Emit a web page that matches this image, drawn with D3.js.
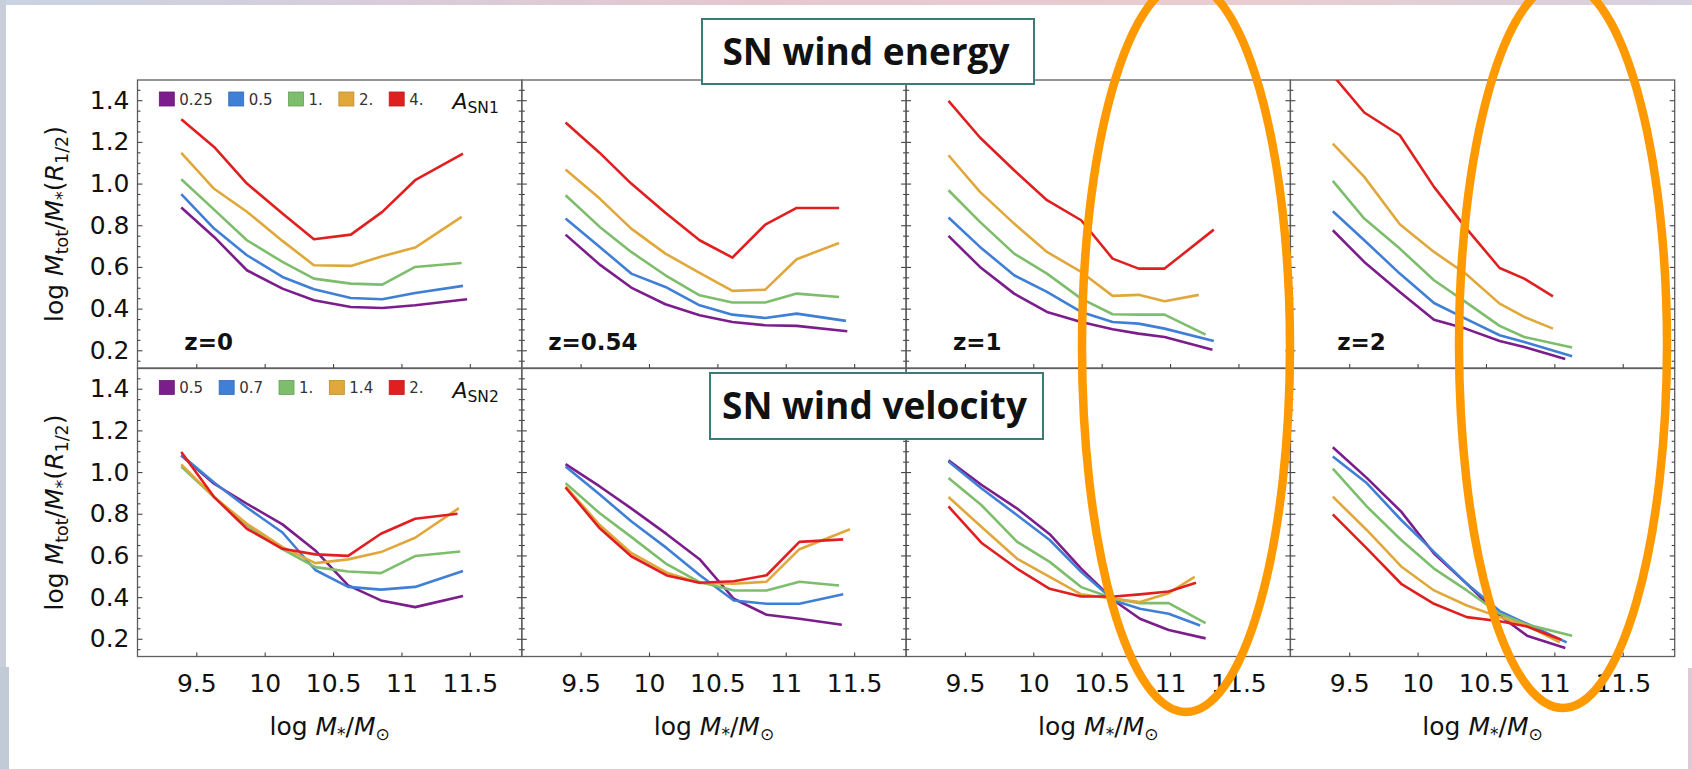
<!DOCTYPE html>
<html>
<head>
<meta charset="utf-8">
<script src="https://cdn.jsdelivr.net/npm/d3@7"></script>
<style>
  html, body { margin: 0; padding: 0; background: #fff; overflow: hidden; }
  svg { display: block; }
</style>
</head>
<body>
<svg id="chart"></svg>
<script>
const width = 1692;
const height = 769;

// axis ticks and labels
const massTicks = [9.5, 10, 10.5, 11, 11.5];
const ratioTicks = [0.2, 0.4, 0.6, 0.8, 1.0, 1.2, 1.4];
const redshiftLabels = ["z=0", "z=0.54", "z=1", "z=2"];
const energyLabels = ["0.25", "0.5", "1.", "2.", "4."];
const velocityLabels = ["0.5", "0.7", "1.", "1.4", "2."];
const seriesColors = ["#7b1e8c", "#3f7fd6", "#7dbd6c", "#e0a83a", "#e02020"];

// SN wind energy row (A_SN1), series order: purple, blue, green, gold, red
// *_x = shared mass bins, *_end = last x of each series
const e0_x = [9.39, 9.63, 9.87, 10.13, 10.36, 10.63, 10.86, 11.1];
const e0_end = [11.48, 11.45, 11.44, 11.44, 11.45];
const e0_y = [
  [0.885, 0.744, 0.584, 0.496, 0.44, 0.408, 0.403, 0.416, 0.445],
  [0.949, 0.784, 0.656, 0.552, 0.493, 0.451, 0.445, 0.475, 0.509],
  [1.021, 0.875, 0.728, 0.624, 0.544, 0.52, 0.515, 0.6, 0.619],
  [1.147, 0.975, 0.865, 0.725, 0.608, 0.605, 0.651, 0.693, 0.84],
  [1.309, 1.176, 1.0, 0.856, 0.733, 0.755, 0.864, 1.016, 1.144]
];

const e1_x = [9.39, 9.64, 9.87, 10.12, 10.37, 10.61, 10.85, 11.08];
const e1_end = [11.45, 11.44, 11.39, 11.39, 11.39];
const e1_y = [
  [0.755, 0.611, 0.501, 0.421, 0.368, 0.336, 0.32, 0.317, 0.291],
  [0.832, 0.696, 0.568, 0.504, 0.416, 0.371, 0.355, 0.376, 0.341],
  [0.944, 0.792, 0.672, 0.56, 0.464, 0.429, 0.429, 0.472, 0.456],
  [1.067, 0.928, 0.784, 0.664, 0.571, 0.485, 0.491, 0.637, 0.715],
  [1.293, 1.147, 1.0, 0.86, 0.728, 0.645, 0.803, 0.883, 0.883]
];

const e2_x = [9.38, 9.61, 9.86, 10.1, 10.35, 10.58, 10.77, 10.96];
const e2_end = [11.31, 11.32, 11.26, 11.21, 11.32];
const e2_y = [
  [0.749, 0.6, 0.472, 0.384, 0.336, 0.301, 0.28, 0.264, 0.203],
  [0.837, 0.696, 0.56, 0.48, 0.384, 0.336, 0.328, 0.304, 0.245],
  [0.968, 0.816, 0.664, 0.568, 0.448, 0.373, 0.371, 0.371, 0.275],
  [1.136, 0.96, 0.808, 0.672, 0.576, 0.461, 0.466, 0.435, 0.466],
  [1.397, 1.221, 1.064, 0.92, 0.824, 0.64, 0.592, 0.592, 0.779]
];

const e3_x = [9.38, 9.61, 9.87, 10.12, 10.35, 10.6, 10.78];
const e3_end = [11.08, 11.13, 11.13, 10.99, 10.99];
const e3_y = [
  [0.776, 0.624, 0.48, 0.347, 0.304, 0.245, 0.216, 0.158],
  [0.867, 0.728, 0.568, 0.427, 0.352, 0.272, 0.24, 0.171],
  [1.013, 0.832, 0.688, 0.536, 0.432, 0.317, 0.264, 0.213],
  [1.192, 1.032, 0.805, 0.672, 0.568, 0.424, 0.36, 0.304],
  [1.52, 1.341, 1.232, 0.984, 0.79, 0.595, 0.544, 0.459]
];

// SN wind velocity row (A_SN2)
const v0_x = [9.39, 9.63, 9.87, 10.13, 10.37, 10.61, 10.85, 11.1];
const v0_end = [11.45, 11.45, 11.43, 11.42, 11.41];
const v0_y = [
  [1.08, 0.944, 0.848, 0.749, 0.624, 0.456, 0.384, 0.352, 0.405],
  [1.082, 0.95, 0.83, 0.71, 0.53, 0.449, 0.436, 0.449, 0.525],
  [1.026, 0.88, 0.745, 0.63, 0.544, 0.523, 0.515, 0.597, 0.619],
  [1.037, 0.88, 0.752, 0.64, 0.563, 0.581, 0.616, 0.685, 0.827],
  [1.096, 0.88, 0.728, 0.632, 0.605, 0.598, 0.704, 0.776, 0.8]
];

const v1_x = [9.39, 9.64, 9.87, 10.13, 10.37, 10.62, 10.86, 11.1];
const v1_end = [11.41, 11.42, 11.39, 11.47, 11.42];
const v1_y = [
  [1.038, 0.931, 0.826, 0.702, 0.582, 0.392, 0.315, 0.296, 0.267],
  [1.027, 0.892, 0.764, 0.635, 0.506, 0.384, 0.368, 0.368, 0.414],
  [0.947, 0.802, 0.689, 0.558, 0.472, 0.432, 0.432, 0.474, 0.456],
  [0.931, 0.746, 0.612, 0.517, 0.468, 0.464, 0.474, 0.63, 0.726],
  [0.926, 0.73, 0.596, 0.504, 0.469, 0.476, 0.505, 0.665, 0.677]
];

const v2_x = [9.38, 9.62, 9.88, 10.12, 10.35, 10.59, 10.78, 10.99];
const v2_end = [11.26, 11.22, 11.26, 11.18, 11.19];
const v2_y = [
  [1.056, 0.939, 0.826, 0.702, 0.537, 0.384, 0.296, 0.242, 0.202],
  [1.051, 0.922, 0.794, 0.674, 0.521, 0.384, 0.344, 0.32, 0.264],
  [0.971, 0.842, 0.666, 0.569, 0.448, 0.392, 0.371, 0.371, 0.275],
  [0.88, 0.738, 0.585, 0.497, 0.413, 0.392, 0.376, 0.419, 0.497],
  [0.835, 0.661, 0.537, 0.44, 0.403, 0.403, 0.413, 0.427, 0.469]
];

const v3_x = [9.38, 9.63, 9.88, 10.12, 10.36, 10.6, 10.8];
const v3_end = [11.08, 11.09, 11.13, 11.04, 11.05];
const v3_y = [
  [1.119, 0.971, 0.81, 0.609, 0.464, 0.312, 0.215, 0.156],
  [1.075, 0.946, 0.77, 0.617, 0.464, 0.333, 0.272, 0.183],
  [1.016, 0.834, 0.674, 0.537, 0.432, 0.32, 0.268, 0.215],
  [0.882, 0.721, 0.547, 0.432, 0.36, 0.304, 0.263, 0.183],
  [0.797, 0.633, 0.464, 0.368, 0.304, 0.284, 0.259, 0.195]
];

const panels = [
  { row: 0, col: 0, xs: e0_x, ends: e0_end, ys: e0_y },
  { row: 0, col: 1, xs: e1_x, ends: e1_end, ys: e1_y },
  { row: 0, col: 2, xs: e2_x, ends: e2_end, ys: e2_y },
  { row: 0, col: 3, xs: e3_x, ends: e3_end, ys: e3_y },
  { row: 1, col: 0, xs: v0_x, ends: v0_end, ys: v0_y },
  { row: 1, col: 1, xs: v1_x, ends: v1_end, ys: v1_y },
  { row: 1, col: 2, xs: v2_x, ends: v2_end, ys: v2_y },
  { row: 1, col: 3, xs: v3_x, ends: v3_end, ys: v3_y }
];

// layout
const panelLeft = 137.5;
const panelW = 384.3;
const rowTops = [80, 368.5];
const rowH = 288;
const massDomain = [9.07, 11.88];
const ratioDomain = [0.115, 1.497];
const frameColor = "#5e5e5e";
const tickFont = "'DejaVu Sans', Verdana, sans-serif";

const svg = d3.select("#chart").attr("width", width).attr("height", height);
const defs = svg.append("defs");

// faint photo border round the slide
const topGrad = defs.append("linearGradient").attr("id", "topGrad");
topGrad.append("stop").attr("offset", "0%").attr("stop-color", "#c9d3e3");
topGrad.append("stop").attr("offset", "45%").attr("stop-color", "#e6c7cf");
topGrad.append("stop").attr("offset", "75%").attr("stop-color", "#e9cdd0");
topGrad.append("stop").attr("offset", "100%").attr("stop-color", "#d6d2df");

svg.append("rect").attr("width", width).attr("height", height).attr("fill", "#fff");
svg.append("rect").attr("x", 0).attr("y", 0).attr("width", width).attr("height", 5)
  .attr("fill", "url(#topGrad)");
svg.append("rect").attr("x", 0).attr("y", 0).attr("width", 6).attr("height", 667)
  .attr("fill", "#c8cfdb");
svg.append("rect").attr("x", 0).attr("y", 667).attr("width", 9).attr("height", height - 667)
  .attr("fill", "#c3cad7");
svg.append("rect").attr("x", 1688).attr("y", 668).attr("width", 4).attr("height", height - 668)
  .attr("fill", "#dccbd4");

const line = d3.line();

panels.forEach((p, i) => {
  const left = panelLeft + p.col * panelW;
  const top = rowTops[p.row];
  const xScale = d3.scaleLinear().domain(massDomain).range([left, left + panelW]);
  const yScale = d3.scaleLinear().domain(ratioDomain).range([top + rowH, top]);

  const clipId = "clip" + i;
  defs.append("clipPath").attr("id", clipId)
    .append("rect")
    .attr("x", left).attr("y", top)
    .attr("width", panelW).attr("height", rowH);

  const g = svg.append("g");

  // frame
  g.append("rect")
    .attr("x", left).attr("y", top)
    .attr("width", panelW).attr("height", rowH)
    .attr("fill", "none")
    .attr("stroke", frameColor)
    .attr("stroke-width", 1.3);

  const minorTicks = d3.range(3, 30).filter((k) => k % 4 !== 0).map((k) => k * 0.05);

  // left and right frame ticks, pointing inward
  g.append("g").attr("transform", `translate(${left},0)`)
    .call(d3.axisLeft(yScale).tickValues(ratioTicks).tickSize(-5).tickPadding(8)
      .tickFormat(p.col === 0 ? d3.format(".1f") : () => ""));
  g.append("g").attr("transform", `translate(${left},0)`)
    .call(d3.axisLeft(yScale).tickValues(minorTicks).tickSize(-3).tickFormat(() => ""));
  g.append("g").attr("transform", `translate(${left + panelW},0)`)
    .call(d3.axisRight(yScale).tickValues(ratioTicks).tickSize(-5).tickFormat(() => ""));
  g.append("g").attr("transform", `translate(${left + panelW},0)`)
    .call(d3.axisRight(yScale).tickValues(minorTicks).tickSize(-3).tickFormat(() => ""));

  // bottom ticks
  g.append("g").attr("transform", `translate(0,${top + rowH})`)
    .call(d3.axisBottom(xScale).tickValues(massTicks).tickSize(-4).tickPadding(17.5)
      .tickFormat(p.row === 1 ? (d) => String(d) : () => ""));

  g.selectAll(".domain").remove();
  g.selectAll(".tick line").attr("stroke", "#444").attr("stroke-width", 1.1);
  g.selectAll(".tick text")
    .attr("font-family", tickFont)
    .attr("font-size", 25)
    .attr("fill", "#111");

  // curves
  const lines = g.append("g").attr("clip-path", `url(#${clipId})`);
  p.ys.forEach((vals, s) => {
    const pts = vals.map((v, k) => [
      xScale(k < p.xs.length ? p.xs[k] : p.ends[s]),
      yScale(v)
    ]);
    lines.append("path")
      .attr("d", line(pts))
      .attr("fill", "none")
      .attr("stroke", seriesColors[s])
      .attr("stroke-width", 2.6)
      .attr("stroke-linejoin", "round");
  });

  // redshift label (top row only)
  if (p.row === 0) {
    g.append("text")
      .attr("x", xScale(9.59))
      .attr("y", yScale(0.2))
      .attr("text-anchor", "middle")
      .attr("font-family", tickFont)
      .attr("font-weight", "bold")
      .attr("font-size", 23)
      .attr("fill", "#111")
      .text(redshiftLabels[p.col]);
  }

  // x axis title
  if (p.row === 1) {
    const t = g.append("text")
      .attr("x", left + panelW / 2)
      .attr("y", 735)
      .attr("text-anchor", "middle")
      .attr("font-family", tickFont)
      .attr("font-size", 25)
      .attr("fill", "#111");
    t.append("tspan").text("log ");
    t.append("tspan").attr("font-style", "italic").text("M");
    t.append("tspan").attr("font-size", 17).attr("dy", 5).text("*");
    t.append("tspan").attr("dy", -5).text("/");
    t.append("tspan").attr("font-style", "italic").text("M");
    t.append("tspan").attr("font-size", 17).attr("dy", 5).text("\u2299");
  }

  // y axis title and legend in first column
  if (p.col === 0) {
    const cy = top + rowH / 2;
    const t = g.append("text")
      .attr("transform", `translate(63,${cy}) rotate(-90)`)
      .attr("text-anchor", "middle")
      .attr("font-family", tickFont)
      .attr("font-size", 25)
      .attr("fill", "#111");
    t.append("tspan").text("log ");
    t.append("tspan").attr("font-style", "italic").text("M");
    t.append("tspan").attr("font-size", 17.5).attr("dy", 5).text("tot");
    t.append("tspan").attr("dy", -5).text("/");
    t.append("tspan").attr("font-style", "italic").text("M");
    t.append("tspan").attr("font-size", 17.5).attr("dy", 5).text("*");
    t.append("tspan").attr("dy", -5).text("(");
    t.append("tspan").attr("font-style", "italic").text("R");
    t.append("tspan").attr("font-size", 17.5).attr("dy", 5).text("1/2");
    t.append("tspan").attr("dy", -5).text(")");

    const labels = p.row === 0 ? energyLabels : velocityLabels;
    const legend = g.append("g");
    let lx = left + 21.8;
    const ly = top + 12;
    labels.forEach((lab, s) => {
      legend.append("rect")
        .attr("x", lx).attr("y", ly)
        .attr("width", 15).attr("height", 14)
        .attr("fill", seriesColors[s])
        .attr("stroke", d3.color(seriesColors[s]).darker(0.5))
        .attr("stroke-width", 0.8);
      const txt = legend.append("text")
        .attr("x", lx + 20).attr("y", ly + 12.5)
        .attr("font-family", tickFont)
        .attr("font-size", 15)
        .attr("fill", "#333")
        .text(lab);
      lx += 20 + txt.node().getComputedTextLength() + 16;
    });

    const a = g.append("text")
      .attr("x", left + panelW - 23)
      .attr("y", top + 29)
      .attr("text-anchor", "end")
      .attr("font-family", tickFont)
      .attr("font-size", 22)
      .attr("fill", "#111");
    a.append("tspan").attr("font-style", "italic").text("A");
    a.append("tspan").attr("font-size", 15.5).attr("dy", 4).text(p.row === 0 ? "SN1" : "SN2");
  }
});

// title boxes
const boxes = [
  { x: 702, y: 19, w: 332, h: 65, label: "SN wind energy" },
  { x: 710, y: 373, w: 333, h: 66, label: "SN wind velocity" }
];
boxes.forEach((b) => {
  svg.append("rect")
    .attr("x", b.x).attr("y", b.y)
    .attr("width", b.w).attr("height", b.h)
    .attr("fill", "#fff")
    .attr("stroke", "#3b7c79")
    .attr("stroke-width", 2);
  svg.append("text")
    .attr("x", b.x + b.w / 2 - 2)
    .attr("y", b.y + b.h / 2 + 13)
    .attr("text-anchor", "middle")
    .attr("font-family", "'Open Sans', 'Noto Sans', sans-serif")
    .attr("font-weight", "bold")
    .attr("font-size", 37)
    .attr("fill", "#111")
    .text(b.label);
});

// orange highlight ellipses
const ellipses = [
  { cx: 1186, cy: 347, rx: 104, ry: 365 },
  { cx: 1563, cy: 345, rx: 104, ry: 363 }
];
ellipses.forEach((e) => {
  svg.append("ellipse")
    .attr("cx", e.cx).attr("cy", e.cy)
    .attr("rx", e.rx).attr("ry", e.ry)
    .attr("fill", "none")
    .attr("stroke", "#ff9900")
    .attr("stroke-width", 8.5);
});
</script>
</body>
</html>
